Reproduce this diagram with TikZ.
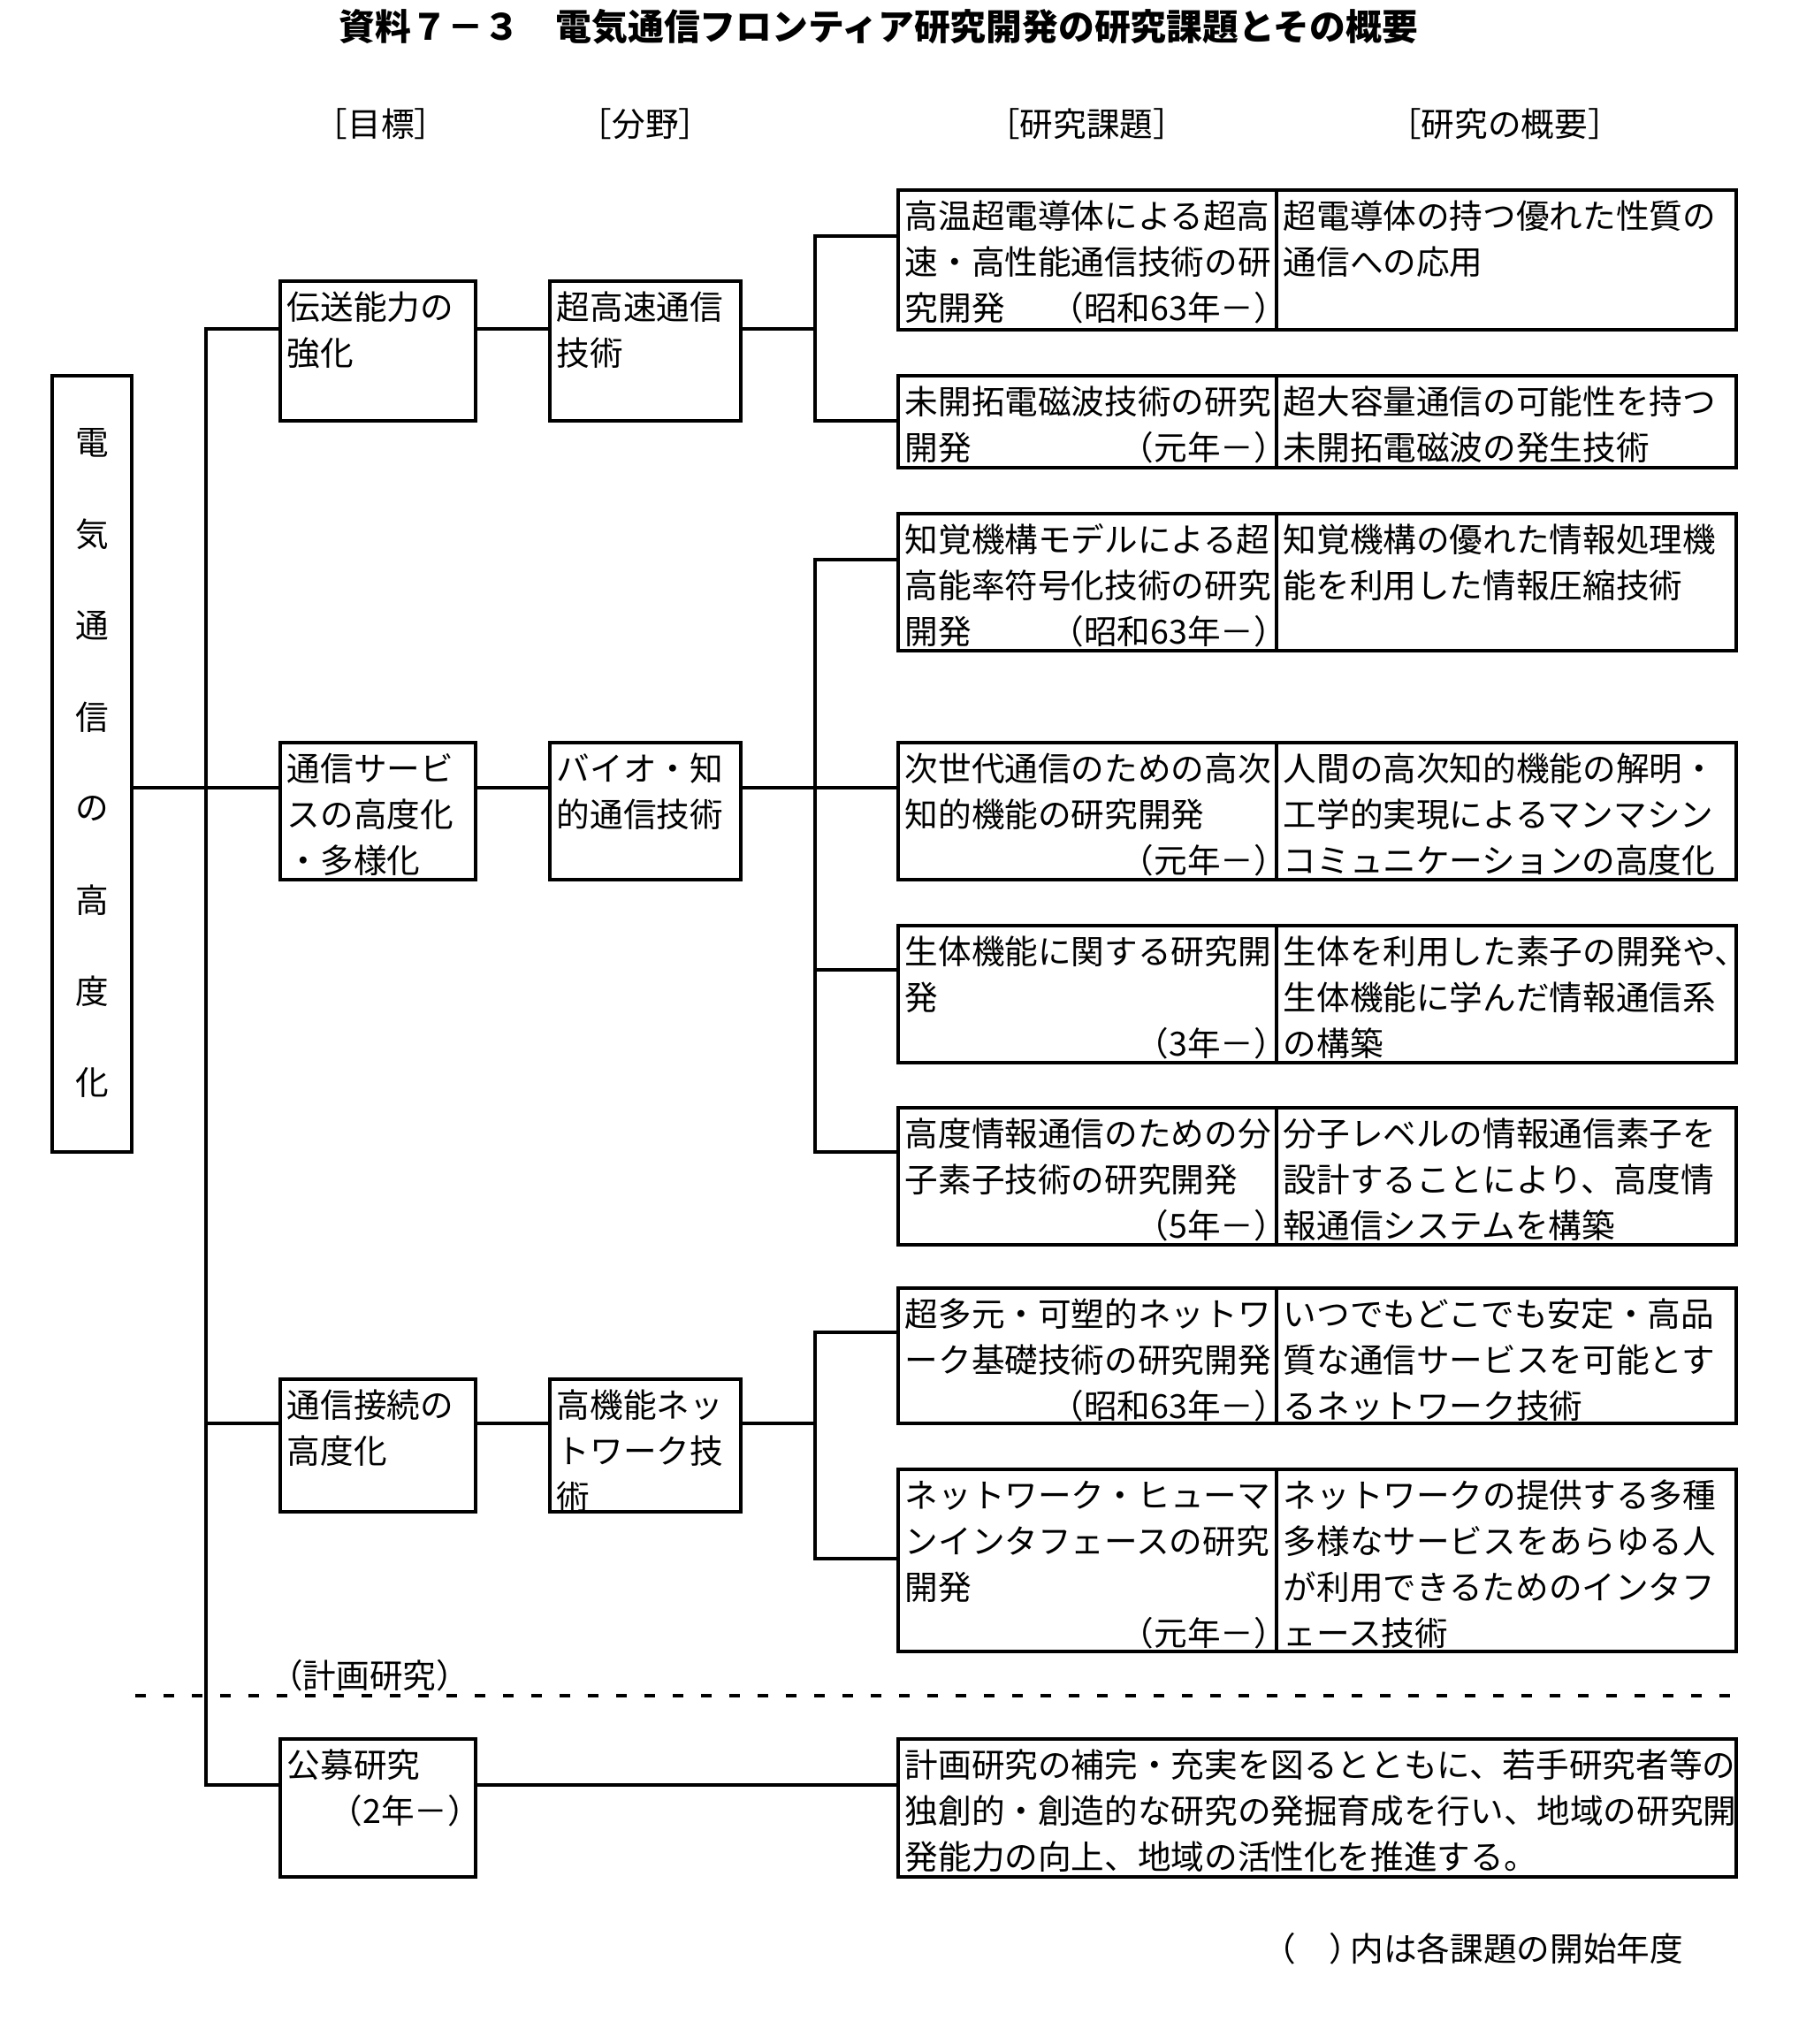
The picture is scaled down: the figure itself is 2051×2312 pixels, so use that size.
\documentclass[tikz,border=0pt]{standalone}
\usepackage{fontspec}
\newfontfamily\jpfont{Noto Sans CJK JP}
\usetikzlibrary{fit}

\tikzset{
  box/.style={draw, line width=1.1pt, inner sep=0pt},
  link/.style={line width=1.1pt},
  sepline/.style={line width=1.1pt, dash pattern=on 3.4pt off 5.7pt},
  celltext/.style={anchor=north west, inner sep=0pt, xshift=0.09cm, yshift=-0.08cm,
    align=left, font=\jpfont\fontsize{10.7pt}{14.79pt}\selectfont},
  plain/.style={inner sep=0pt, font=\jpfont\fontsize{10.7pt}{12pt}\selectfont},
}

\begin{document}
\begin{tikzpicture}[x=0.01cm, y=-0.01cm]
    \useasboundingbox (0,0) rectangle (2051,2312);

    % Titel und Spaltenköpfe
    \node[plain, font=\jpfont\bfseries\fontsize{11.6pt}{12pt}\selectfont] (title) at (994,30)
        {資料７－３　電気通信フロンティア研究開発の研究課題とその概要};
    \node[plain] (h1) at (431,140) {［目標］};
    \node[plain] (h2) at (730,140) {［分野］};
    \node[plain] (h3) at (1229,140) {［研究課題］};
    \node[plain] (h4) at (1702,140) {［研究の概要］};

    % Wurzel (senkrechter Text)
    \node[box, fit={(59,425) (149,1303)}] (root) {};
    \foreach \ch [count=\i] in {電,気,通,信,の,高,度,化}
        \node[plain] (r\i) at (104,{501+103.4*(\i-1)}) {\ch};

    % Ziele
    \node[box, fit={(317,318) (538,476)}] (g1) {};
    \node[box, fit={(317,840) (538,995)}] (g2) {};
    \node[box, fit={(317,1560) (538,1710)}] (g3) {};
    \node[box, fit={(317,1967) (538,2123)}] (g4) {};
    \node[celltext, text width=2.19cm] (g1t) at (g1.north west) {\strut 伝送能力の\\強化};
    \node[celltext, text width=2.19cm] (g2t) at (g2.north west) {\strut 通信サービ\\スの高度化\\・多様化};
    \node[celltext, text width=2.19cm] (g3t) at (g3.north west) {\strut 通信接続の\\高度化};
    \node[celltext, text width=2.19cm] (g4t) at (g4.north west) {\strut 公募研究\\\mbox{}\hfill（2年－）};

    % Felder
    \node[box, fit={(622,318) (838,476)}] (f1) {};
    \node[box, fit={(622,840) (838,995)}] (f2) {};
    \node[box, fit={(622,1560) (838,1710)}] (f3) {};
    \node[celltext, text width=2.1cm] (f1t) at (f1.north west) {\strut 超高速通信\\技術};
    \node[celltext, text width=2.1cm] (f2t) at (f2.north west) {\strut バイオ・知\\的通信技術};
    \node[celltext, text width=2.1cm] (f3t) at (f3.north west) {\strut 高機能ネッ\\トワーク技\\術};

    % Forschungsthemen: linke und rechte Zelle
    \foreach \n/\top/\bot in {t1/215/373, t2/425/529, t3/581/736, t4/840/995,
                              t5/1047/1202, t6/1253/1408, t7/1457/1610, t8/1662/1868} {
        \node[box, fit={(1016,\top) (1444,\bot)}] (\n) {};
        \node[box, fit={(1444,\top) (1964,\bot)}] (\n r) {};
    }
    \node[box, fit={(1016,1967) (1964,2123)}] (t9) {};

    \node[celltext, text width=4.32cm] (t1t) at (t1.north west)
        {\strut 高温超電導体による超高\\速・高性能通信技術の研\\究開発\hfill（昭和63年－）};
    \node[celltext, text width=4.32cm] (t2t) at (t2.north west)
        {\strut 未開拓電磁波技術の研究\\開発\hfill（元年－）};
    \node[celltext, text width=4.32cm] (t3t) at (t3.north west)
        {\strut 知覚機構モデルによる超\\高能率符号化技術の研究\\開発\hfill（昭和63年－）};
    \node[celltext, text width=4.32cm] (t4t) at (t4.north west)
        {\strut 次世代通信のための高次\\知的機能の研究開発\\\mbox{}\hfill（元年－）};
    \node[celltext, text width=4.32cm] (t5t) at (t5.north west)
        {\strut 生体機能に関する研究開\\発\\\mbox{}\hfill（3年－）};
    \node[celltext, text width=4.32cm] (t6t) at (t6.north west)
        {\strut 高度情報通信のための分\\子素子技術の研究開発\\\mbox{}\hfill（5年－）};
    \node[celltext, text width=4.32cm] (t7t) at (t7.north west)
        {\strut 超多元・可塑的ネットワ\\ーク基礎技術の研究開発\\\mbox{}\hfill（昭和63年－）};
    \node[celltext, text width=4.32cm] (t8t) at (t8.north west)
        {\strut ネットワーク・ヒューマ\\ンインタフェースの研究\\開発\\\mbox{}\hfill（元年－）};

    \node[celltext, text width=5cm] (t1rt) at (t1r.north west)
        {\strut 超電導体の持つ優れた性質の\\通信への応用};
    \node[celltext, text width=5cm] (t2rt) at (t2r.north west)
        {\strut 超大容量通信の可能性を持つ\\未開拓電磁波の発生技術};
    \node[celltext, text width=5cm] (t3rt) at (t3r.north west)
        {\strut 知覚機構の優れた情報処理機\\能を利用した情報圧縮技術};
    \node[celltext, text width=5cm] (t4rt) at (t4r.north west)
        {\strut 人間の高次知的機能の解明・\\工学的実現によるマンマシン\\コミュニケーションの高度化};
    \node[celltext, text width=5cm] (t5rt) at (t5r.north west)
        {\strut 生体を利用した素子の開発や、\\生体機能に学んだ情報通信系\\の構築};
    \node[celltext, text width=5cm] (t6rt) at (t6r.north west)
        {\strut 分子レベルの情報通信素子を\\設計することにより、高度情\\報通信システムを構築};
    \node[celltext, text width=5cm] (t7rt) at (t7r.north west)
        {\strut いつでもどこでも安定・高品\\質な通信サービスを可能とす\\るネットワーク技術};
    \node[celltext, text width=5cm] (t8rt) at (t8r.north west)
        {\strut ネットワークの提供する多種\\多様なサービスをあらゆる人\\が利用できるためのインタフ\\ェース技術};
    \node[celltext, text width=9.4cm] (t9t) at (t9.north west)
        {\strut 計画研究の補完・充実を図るとともに、若手研究者等の\\独創的・創造的な研究の発掘育成を行い、地域の研究開\\発能力の向上、地域の活性化を推進する。};

    % Anschlusshöhen der Linien
    \coordinate (sp) at (233,0);
    \coordinate (br) at (922,0);
    \foreach \n/\y in {g1/372, g2/891, g3/1610, g4/2019, t1/267, t2/476, t3/633,
                       t4/891, t5/1097, t6/1303, t7/1507, t8/1763}
        \coordinate (\n c) at (0,\y);

    % Verbindungen
    \draw[link] (root.east |- g2c) -- (g2.west |- g2c);
    \draw[link] (g1.west |- g1c) -| (sp |- g4c) -- (g4.west |- g4c);
    \draw[link] (sp |- g3c) -- (g3.west |- g3c);
    \foreach \i in {1,2,3}
        \draw[link] (g\i.east |- g\i c) -- (f\i.west |- g\i c);
    \draw[link] (f1.east |- g1c) -- (br |- g1c);
    \draw[link] (t1.west |- t1c) -| (br |- t2c) -- (t2.west |- t2c);
    \draw[link] (f2.east |- g2c) -- (br |- g2c);
    \draw[link] (t3.west |- t3c) -| (br |- t6c) -- (t6.west |- t6c);
    \foreach \i in {4,5}
        \draw[link] (br |- t\i c) -- (t\i.west |- t\i c);
    \draw[link] (f3.east |- g3c) -- (br |- g3c);
    \draw[link] (t7.west |- t7c) -| (br |- t8c) -- (t8.west |- t8c);
    \draw[link] (g4.east |- g4c) -- (t9.west |- g4c);

    % Trennlinie und Anmerkungen
    \draw[sepline] (153,1918) -- (1967,1918);
    \node[plain] (plan) at (418,1895) {（計画研究）};
    \node[plain] (note) at (1666,2204) {（　）\kern-0.35em 内は各課題の開始年度};
\end{tikzpicture}
\end{document}
